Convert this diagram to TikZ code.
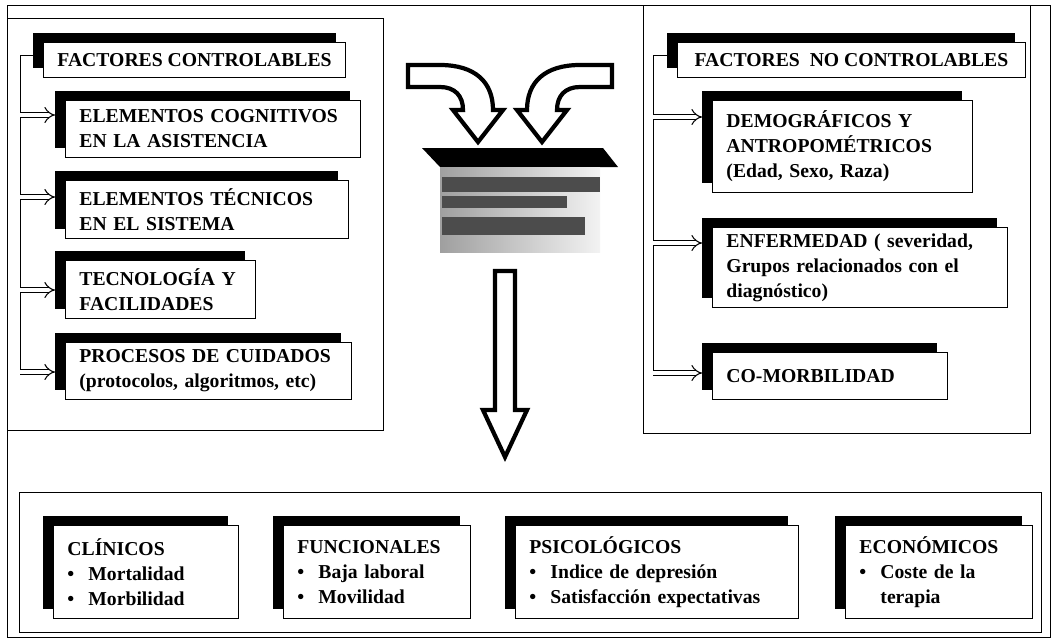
\documentclass[tikz,border=0pt]{standalone}
\usepackage{fontspec}
\setmainfont{Liberation Serif}
\usetikzlibrary{shadows,arrows.meta}
\tikzset{
  sbox/.style={draw,fill=white,line width=0.5pt,anchor=north west,
    general shadow={fill=black,shadow xshift=-0.2cm,shadow yshift=0.18cm},
    font=\fontsize{11.2}{14.2}\selectfont\bfseries,inner xsep=0.28cm,inner ysep=0pt,align=left},
  tbox/.style={sbox,align=center,minimum height=0.7cm},
  frame/.style={line width=0.5pt},
  dblarr/.style={double,double distance=2.6pt,line width=0.6pt,-{Implies}},
  bigarr/.style={line width=2.4pt,fill=white,line join=miter},
}
\newcommand{\itm}{\makebox[0.42cm][l]{\textbullet}}
\begin{document}
\begin{tikzpicture}[x=0.02cm,y=-0.02cm]
\useasboundingbox (0,0) rectangle (1053,642);
% frames
\draw[frame] (7,5) rectangle (1050,637);
\draw[frame] (7,18) rectangle (383,430);
\draw[frame] (643,5) rectangle (1030,433);
\draw[frame] (19,492) rectangle (1041,632);
% controllable factors
\node[tbox,minimum width=6cm] (ctl) at (43,42) {FACTORES CONTROLABLES};
\node[sbox,text width=5.34cm,minimum height=1.14cm] (cog) at (65,100) {ELEMENTOS COGNITIVOS\\EN LA ASISTENCIA};
\node[sbox,text width=5.1cm,minimum height=1.16cm] (tec) at (65,180) {ELEMENTOS TÉCNICOS\\EN EL SISTEMA};
\node[sbox,text width=3.24cm,minimum height=1.16cm] (fac) at (65,260) {TECNOLOGÍA Y\\FACILIDADES};
\node[sbox,text width=5.16cm,minimum height=1.14cm] (pro) at (65,342) {PROCESOS DE CUIDADOS\\(protocolos, algoritmos, etc)};
\coordinate (lv) at (20,55);
\draw[frame] ([xshift=-0.2cm]ctl.west |- lv) -- (lv) -- (20,372);
\foreach \n/\y in {cog/115,tec/197,fac/290,pro/372}
  \draw[dblarr] (lv |- 0,\y) -- ([xshift=-0.2cm]\n.west |- 0,\y);
% non controllable factors
\node[tbox,minimum width=6.96cm] (nctl) at (677,42) {FACTORES\ \ NO CONTROLABLES};
\node[sbox,text width=4.64cm,minimum height=1.84cm] (dem) at (712,100) {DEMOGRÁFICOS Y\\ANTROPOMÉTRICOS\\(Edad, Sexo, Raza)};
\node[sbox,text width=5.34cm,minimum height=1.6cm] (enf) at (712,227) {ENFERMEDAD ( severidad,\\Grupos relacionados con el\\diagnóstico)};
\node[sbox,text width=4.14cm,minimum height=0.94cm] (com) at (712,352) {CO-MORBILIDAD};
\coordinate (rv) at (653,55);
\draw[frame] ([xshift=-0.2cm]nctl.west |- rv) -- (rv) -- (653,373);
\foreach \n/\y in {dem/117,enf/243,com/373}
  \draw[dblarr] (rv |- 0,\y) -- ([xshift=-0.2cm]\n.west |- 0,\y);
% centre
\draw[bigarr] (408,65) -- (440,65) .. controls (475,65) and (493,82) .. (493,110) -- (503,110) -- (478,142) -- (453,110) -- (463,110) .. controls (463,96) and (455,87) .. (440,87) -- (408,87) -- cycle;
\draw[bigarr] (612,65) -- (580,65) .. controls (545,65) and (527,82) .. (527,110) -- (517,110) -- (542,142) -- (567,110) -- (557,110) .. controls (557,96) and (565,87) .. (580,87) -- (612,87) -- cycle;
\fill (422,148) -- (603,148) -- (618,167) -- (440,167) -- cycle;
\shade[left color=gray!75,right color=gray!10] (440,167) rectangle (600,252);
\fill[black!70] (442,177) rectangle (600,192);
\fill[black!70] (442,196) rectangle (567,208);
\fill[black!70] (442,217) rectangle (585,235);
\draw[bigarr] (495,271) -- (515,271) -- (515,410) -- (527,410) -- (505,457) -- (483,410) -- (495,410) -- cycle;
% results
\node[sbox,text width=3.14cm,minimum height=1.86cm] (cli) at (53,525) {CLÍNICOS\\\itm Mortalidad\\\itm Morbilidad};
\node[sbox,text width=3.18cm,minimum height=1.86cm] (fun) at (283,525) {FUNCIONALES\\\itm Baja laboral\\\itm Movilidad};
\node[sbox,text width=5.1cm,minimum height=1.86cm] (psi) at (515,525) {PSICOLÓGICOS\\\itm Indice de depresión\\\itm Satisfacción expectativas};
\node[sbox,text width=3.18cm,minimum height=1.86cm] (eco) at (845,525) {ECONÓMICOS\\\itm Coste de la\\\hspace*{0.42cm}terapia};
\end{tikzpicture}
\end{document}
